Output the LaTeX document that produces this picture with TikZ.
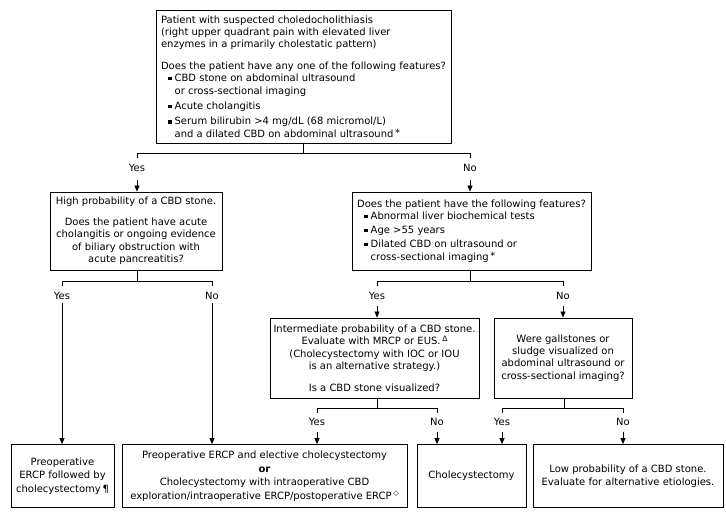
\documentclass[tikz,border=0pt]{standalone}
\usepackage{fontspec}
\setmainfont{DejaVu Sans}
\usetikzlibrary{arrows.meta}
\newcommand{\blt}{\rule[1.4pt]{3.6pt}{3.6pt}\hspace{3pt}}
\begin{document}
\begin{tikzpicture}[x=1pt,y=-1pt,
  txt/.style={font=\fontsize{10}{12.4}\selectfont},
  box/.style={draw, line width=0.8pt, inner sep=0pt, txt},
  smalltxt/.style={font=\fontsize{10}{13.5}\selectfont},
  lab/.style={inner sep=0pt, txt},
  ln/.style={line width=0.8pt},
  arr/.style={line width=0.8pt, -{Triangle[width=5pt,length=6pt]}}]
\useasboundingbox (0,0) rectangle (726,518);
\fill[white] (0,0) rectangle (726,518);

% boxes
\node[box, align=left, minimum width=295pt, minimum height=133pt] (top) at (303.5,76.5) {%
Patient with suspected choledocholithiasis\\
(right upper quadrant pain with elevated liver\\
enzymes in a primarily cholestatic pattern)\\[9pt]
Does the patient have any one of the following features?\\
\hspace*{7pt}\blt CBD stone on abdominal ultrasound\\
\hspace*{13.6pt}or cross-sectional imaging\\[3pt]
\hspace*{7pt}\blt Acute cholangitis\\[3pt]
\hspace*{7pt}\blt Serum bilirubin >4 mg/dL (68 micromol/L)\\
\hspace*{13.6pt}and a dilated CBD on abdominal ultrasound\,\raisebox{1pt}{*}};

\node[box, align=center, minimum width=172pt, minimum height=78pt] (left) at (136,231) {%
High probability of a CBD stone.\\[8pt]
Does the patient have acute\\
cholangitis or ongoing evidence\\
of biliary obstruction with\\
acute pancreatitis?};

\node[box, align=left, minimum width=239pt, minimum height=78pt] (rtop) at (471.5,231) {%
Does the patient have the following features?\\
\hspace*{7pt}\blt Abnormal liver biochemical tests\\[1.5pt]
\hspace*{7pt}\blt Age >55 years\\[1.5pt]
\hspace*{7pt}\blt Dilated CBD on ultrasound or\\
\hspace*{13.6pt}cross-sectional imaging\,\raisebox{1pt}{*}};

\node[box, align=center, minimum width=209pt, minimum height=80pt] (inter) at (374.5,358) {%
Intermediate probability of a CBD stone.\\
Evaluate with MRCP or EUS.\,\raisebox{3pt}{\fontsize{7.5}{7.5}\selectfont Δ}\\
(Cholecystectomy with IOC or IOU\\
is an alternative strategy.)\\[9pt]
Is a CBD stone visualized?};

\node[box, align=center, minimum width=138pt, minimum height=80pt] (gall) at (563,358) {%
Were gallstones or\\
sludge visualized on\\
abdominal ultrasound or\\
cross-sectional imaging?};

\node[box, smalltxt, align=center, minimum width=103pt, minimum height=63pt] (b1) at (62.5,476) {%
Preoperative\\
ERCP followed by\\
cholecystectomy\,¶};

\node[box, smalltxt, align=center, minimum width=285pt, minimum height=63pt] (b2) at (264.5,476) {%
Preoperative ERCP and elective cholecystectomy\\
\textbf{or}\\
Cholecystectomy with intraoperative CBD\\
exploration/intraoperative ERCP/postoperative ERCP\,\raisebox{3.5pt}{\fontsize{7}{7}\selectfont ◇}};

\node[box, smalltxt, align=center, minimum width=109pt, minimum height=63pt] (b3) at (471.5,476) {Cholecystectomy};

\node[box, smalltxt, align=center, minimum width=190pt, minimum height=63pt] (b4) at (628,476) {%
Low probability of a CBD stone.\\
Evaluate for alternative etiologies.};

% level 1 connector
\coordinate (j1) at (303,153);
\coordinate (j1L) at (137,153);
\coordinate (j1R) at (470,153);
\draw[ln] (top.south -| j1) -- (j1);
\draw[ln] (j1L) -- (j1R);
\draw[ln] (j1L) -- ++(0,5);
\draw[ln] (j1R) -- ++(0,5);
\node[lab] (y1) at (137,168) {Yes};
\node[lab] (n1) at (470,168) {No};
\coordinate (a1L) at (137,180);
\coordinate (a1R) at (470,180);
\draw[arr] (a1L) -- (a1L |- left.north);
\draw[arr] (a1R) -- (a1R |- rtop.north);

% level 2 left
\coordinate (j2) at (137,281);
\coordinate (j2L) at (62,281);
\coordinate (j2R) at (212,281);
\draw[ln] (left.south -| j2) -- (j2);
\draw[ln] (j2L) -- (j2R);
\draw[ln] (j2L) -- ++(0,5);
\draw[ln] (j2R) -- ++(0,5);
\node[lab] (y2) at (62,295.5) {Yes};
\node[lab] (n2) at (212,295.5) {No};
\coordinate (a2L) at (62,303);
\coordinate (a2R) at (212,303);
\draw[arr] (a2L) -- (a2L |- b1.north);
\draw[arr] (a2R) -- (a2R |- b2.north);

% level 2 right
\coordinate (j3) at (470,281);
\coordinate (j3L) at (377,281);
\coordinate (j3R) at (563,281);
\draw[ln] (rtop.south -| j3) -- (j3);
\draw[ln] (j3L) -- (j3R);
\draw[ln] (j3L) -- ++(0,5);
\draw[ln] (j3R) -- ++(0,5);
\node[lab] (y3) at (377,295.5) {Yes};
\node[lab] (n3) at (563,295.5) {No};
\coordinate (a3L) at (377,306);
\coordinate (a3R) at (563,306);
\draw[arr] (a3L) -- (a3L |- inter.north);
\draw[arr] (a3R) -- (a3R |- gall.north);

% level 3 inter
\coordinate (j4) at (377,408);
\coordinate (j4L) at (317,408);
\coordinate (j4R) at (437,408);
\draw[ln] (inter.south -| j4) -- (j4);
\draw[ln] (j4L) -- (j4R);
\draw[ln] (j4L) -- ++(0,5);
\draw[ln] (j4R) -- ++(0,5);
\node[lab] (y4) at (317,422) {Yes};
\node[lab] (n4) at (437,422) {No};
\coordinate (a4L) at (317,432);
\coordinate (a4R) at (437,432);
\draw[arr] (a4L) -- (a4L |- b2.north);
\draw[arr] (a4R) -- (a4R |- b3.north);

% level 3 gall
\coordinate (j5) at (564,408);
\coordinate (j5L) at (502,408);
\coordinate (j5R) at (623,408);
\draw[ln] (gall.south -| j5) -- (j5);
\draw[ln] (j5L) -- (j5R);
\draw[ln] (j5L) -- ++(0,5);
\draw[ln] (j5R) -- ++(0,5);
\node[lab] (y5) at (502,422) {Yes};
\node[lab] (n5) at (623,422) {No};
\coordinate (a5L) at (502,432);
\coordinate (a5R) at (623,432);
\draw[arr] (a5L) -- (a5L |- b3.north);
\draw[arr] (a5R) -- (a5R |- b4.north);
\end{tikzpicture}
\end{document}
